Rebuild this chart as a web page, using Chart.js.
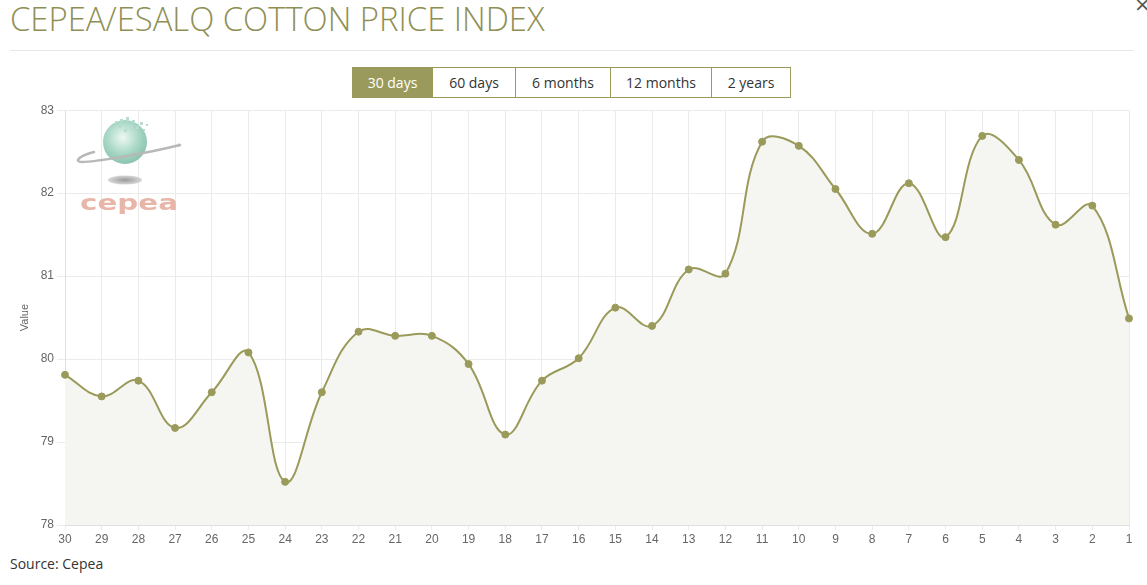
<!DOCTYPE html>
<html>
<head>
<meta charset="utf-8">
<script src="https://cdn.jsdelivr.net/npm/chart.js@4.4.1/dist/chart.umd.min.js"></script>
<style>
html,body{margin:0;padding:0;background:#fff;width:1147px;height:585px;overflow:hidden;position:relative;font-family:"Open Sans",sans-serif;}
#title{position:absolute;left:10px;top:-4px;font-family:"Open Sans";font-weight:300;font-size:33px;color:#8f8f55;white-space:nowrap;transform-origin:0 0;transform:scaleX(0.994);}
#rule{position:absolute;left:10px;top:50px;width:1123px;height:1px;background:#e6e6e6;}
#close{position:absolute;left:1134px;top:-8px;font-family:"DejaVu Sans";font-size:20px;color:#555;}
#btns{position:absolute;left:352px;top:67px;display:flex;height:31px;}
#btns div{box-sizing:border-box;height:31px;border:1px solid #9a9a5c;border-left:none;font-size:14px;color:#333;display:flex;align-items:center;justify-content:center;background:#fff;}
#btns div:first-child{border-left:1px solid #9a9a5c;}
#btns div.on{background:#9a9a5c;color:#fff;}
#wrap{position:absolute;left:0;top:100px;width:1147px;height:445px;}
#src{position:absolute;left:10px;top:554px;font-size:14px;color:#333;}
#logo{position:absolute;left:74px;top:112px;}
</style>
</head>
<body>
<div id="title">CEPEA/ESALQ COTTON PRICE INDEX</div>
<div id="rule"></div>
<div id="close">×</div>
<div id="btns">
  <div class="on" style="width:81px">30 days</div>
  <div style="width:83px">60 days</div>
  <div style="width:95px">6 months</div>
  <div style="width:101px">12 months</div>
  <div style="width:79px">2 years</div>
</div>
<div id="wrap"><canvas id="c"></canvas></div>
<svg id="logo" width="120" height="104" viewBox="0 0 120 104">
  <defs>
    <radialGradient id="sg" cx="0.45" cy="0.4" r="0.6">
      <stop offset="0" stop-color="#eef8f4"/>
      <stop offset="0.6" stop-color="#a9d8c6"/>
      <stop offset="1" stop-color="#8cc4ae"/>
    </radialGradient>
    <radialGradient id="sh" cx="0.5" cy="0.5" r="0.5">
      <stop offset="0" stop-color="#9a9a9a"/>
      <stop offset="1" stop-color="#d8d8d8"/>
    </radialGradient>
  </defs>
  <ellipse cx="51" cy="68" rx="17" ry="4.5" fill="url(#sh)"/>
  <circle cx="51" cy="30" r="22" fill="url(#sg)"/>
  <g fill="#b8ddd0">
    <rect x="46" y="7" width="3" height="3"/><rect x="52" y="5" width="3" height="3"/><rect x="58" y="8" width="3" height="3"/>
    <rect x="44" y="13" width="3" height="3"/><rect x="56" y="13" width="3" height="3"/><rect x="62" y="14" width="3" height="3"/>
    <rect x="66" y="10" width="3" height="3"/><rect x="50" y="17" width="3" height="3"/><rect x="60" y="19" width="3" height="3"/>
    <rect x="69" y="17" width="2" height="2"/><rect x="41" y="9" width="2" height="2"/><rect x="72" y="12" width="2" height="2"/>
  </g>
  <path d="M106 33 C 70 42, 20 50, 8 50 C 0 50, 4 44, 20 40" fill="none" stroke="#b8b8b8" stroke-width="2.5" stroke-linecap="round"/>
  <circle cx="105" cy="33" r="1.5" fill="#b8b8b8"/>
  <text x="6" y="98" font-family="DejaVu Sans" font-size="22" font-weight="bold" fill="#e8b6a8" textLength="98" lengthAdjust="spacingAndGlyphs">cepea</text>
</svg>
<div id="src">Source: Cepea</div>
<script>
const days = ["30","29","28","27","26","25","24","23","22","21","20","19","18","17","16","15","14","13","12","11","10","9","8","7","6","5","4","3","2","1"];
const values = [79.81,79.55,79.74,79.17,79.60,80.08,78.52,79.60,80.33,80.28,80.28,79.94,79.09,79.74,80.01,80.62,80.40,81.08,81.03,82.62,82.57,82.05,81.51,82.12,81.47,82.69,82.40,81.62,81.85,80.49];
const yTicks = [78,79,80,81,82,83];
const olive = "#9a9a5a";
new Chart(document.getElementById('c'), {
  type: 'line',
  data: {
    labels: days,
    datasets: [{
      label: 'Value',
      data: values,
      borderColor: olive,
      backgroundColor: 'rgba(245,245,241,1)',
      fill: 'start',
      borderWidth: 2,
      tension: 0.4,
      pointRadius: 3.5,
      pointBackgroundColor: olive,
      pointBorderColor: olive,
      pointBorderWidth: 1
    }]
  },
  options: {
    responsive: true,
    maintainAspectRatio: false,
    animation: false,
    layout: { padding: { top: 9, right: 18, left: 0, bottom: 0 } },
    plugins: { legend: { display: false }, tooltip: { enabled: false } },
    scales: {
      x: {
        grid: { color: '#ebebeb', tickLength: 5, drawTicks: true },
        border: { color: '#e0e0e0' },
        ticks: { color: '#666', font: { family: 'Liberation Sans', size: 12 }, padding: 2, maxRotation: 0, autoSkip: false },
        afterFit(s) { s.height = 20; }
      },
      y: {
        min: 78, max: 83,
        afterBuildTicks(s) { s.ticks = yTicks.map(v => ({ value: v })); },
        grid: { color: '#ebebeb', tickLength: 8 },
        border: { color: '#e0e0e0' },
        ticks: { color: '#666', font: { family: 'Liberation Sans', size: 12 }, padding: 3 },
        title: { display: true, text: 'Value', color: '#666', font: { family: 'Liberation Sans', size: 11 }, padding: { top: 18, bottom: 0 } },
        afterFit(s) { s.width = 65; }
      }
    }
  }
});
</script>
</body>
</html>
